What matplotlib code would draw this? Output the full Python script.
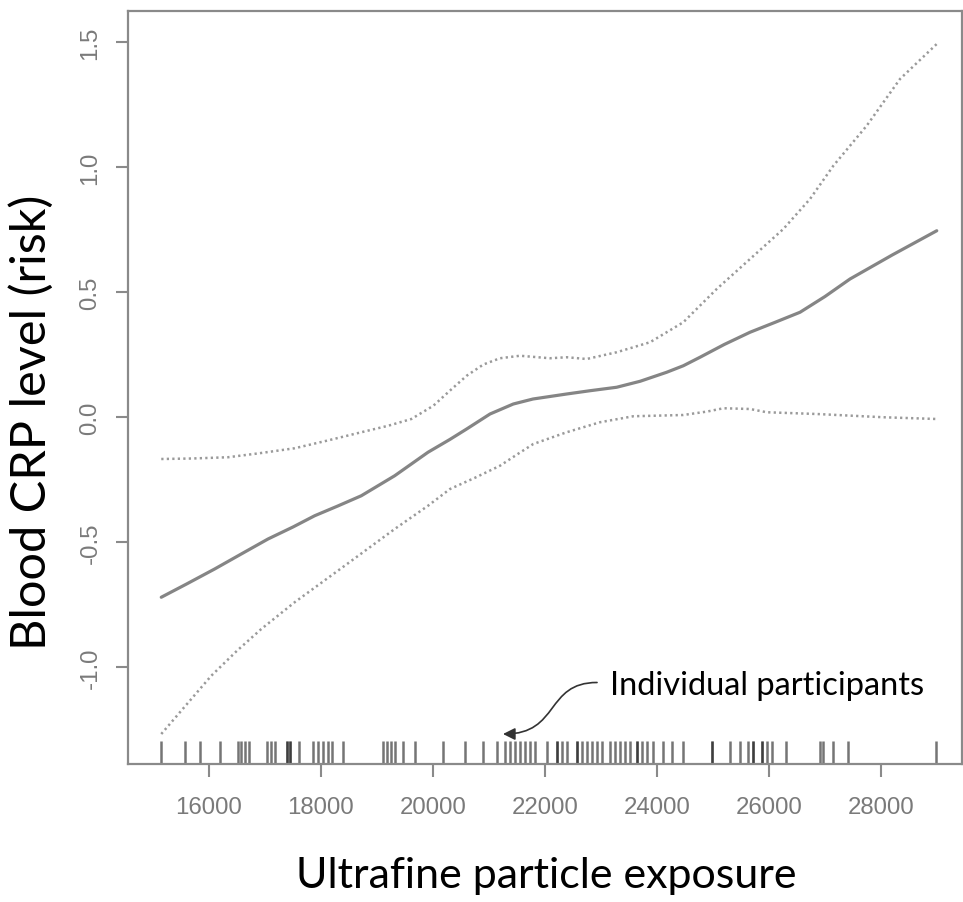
import matplotlib
matplotlib.use("Agg")
import matplotlib.pyplot as plt
from matplotlib.patches import FancyArrowPatch
from matplotlib.path import Path

# ---- data ----
fit_x = [15148, 15600, 16101, 16600, 17054, 17500, 17887, 18300, 18720, 19316,
         19911, 20300, 20601, 21018, 21434, 21786, 22387, 22800, 23280, 23700,
         24173, 24470, 24768, 25200, 25661, 26100, 26554, 27000, 27446, 28200, 28995]
fit_y = [-0.721, -0.668, -0.608, -0.545, -0.488, -0.440, -0.395, -0.356, -0.315, -0.235,
         -0.141, -0.090, -0.048, 0.012, 0.052, 0.072, 0.092, 0.105, 0.119, 0.143,
         0.179, 0.205, 0.239, 0.290, 0.339, 0.378, 0.419, 0.482, 0.552, 0.648, 0.745]

upper_x = [15148, 15700, 16339, 16900, 17530, 18100, 18720, 19200, 19613, 20006,
           20300, 20601, 20900, 21196, 21553, 22089, 22387, 22744, 23280, 23875,
           24470, 25066, 25661, 26256, 26732, 27149, 27744, 28339, 28995]
upper_y = [-0.168, -0.166, -0.161, -0.145, -0.125, -0.095, -0.061, -0.035, -0.008, 0.045,
           0.105, 0.165, 0.210, 0.235, 0.245, 0.235, 0.239, 0.232, 0.259, 0.299,
           0.379, 0.512, 0.632, 0.752, 0.872, 1.005, 1.165, 1.352, 1.492]

lower_x = [15148, 15600, 16041, 16500, 16934, 17530, 18423, 19316, 19911, 20304,
           20750, 21196, 21500, 21791, 22387, 22982, 23577, 24470, 24900, 25185,
           25661, 25959, 26851, 28041, 28995]
lower_y = [-1.268, -1.150, -1.035, -0.935, -0.848, -0.741, -0.595, -0.448, -0.355, -0.288,
           -0.243, -0.195, -0.150, -0.108, -0.061, -0.021, 0.003, 0.008, 0.022, 0.035,
           0.032, 0.019, 0.012, -0.001, -0.008]

participants = [15140, 15570, 15840, 16200, 16510, 16580, 16640, 16720, 17040, 17100,
                17180, 17400, 17400, 17450, 17450, 17610, 17860, 17950, 18040, 18130,
                18190, 18390, 19110, 19170, 19245, 19320, 19460, 19680, 20170, 20570,
                20900, 21140, 21290, 21375, 21465, 21555, 21645, 21730, 21820, 22030,
                22210, 22210, 22300, 22390, 22570, 22570, 22655, 22745, 22835, 22925,
                23010, 23160, 23250, 23340, 23430, 23520, 23640, 23640, 23730, 23815,
                23935, 24115, 24260, 24470, 24975, 24975, 25305, 25480, 25630, 25720,
                25720, 25870, 25870, 25960, 26050, 26305, 26910, 26970, 27150, 27415,
                28980]

x_ticks = [16000, 18000, 20000, 22000, 24000, 26000, 28000]
y_ticks = [-1.0, -0.5, 0.0, 0.5, 1.0, 1.5]
y_tick_labels = ["-1.0", "-0.5", "0.0", "0.5", "1.0", "1.5"]

x_label = "Ultrafine particle exposure"
y_label = "Blood CRP level (risk)"
note = "Individual participants"

# ---- figure ----
W, H = 963, 903
fig = plt.figure(figsize=(W / 100, H / 100), dpi=100)
left, right, top, bottom = 128, 962, 12, 765
ax = fig.add_axes([left / W, 1 - bottom / H, (right - left) / W, (bottom - top) / H])

ax.set_xlim(14554, 29446)
ax.set_ylim(-1.388, 1.624)

ax.plot(fit_x, fit_y, color="#858585", lw=2.3, solid_capstyle="round",
        solid_joinstyle="round")
ax.plot(upper_x, upper_y, color="#9a9a9a", lw=1.8, linestyle=(0, (0.9, 1.3)))
ax.plot(lower_x, lower_y, color="#9a9a9a", lw=1.8, linestyle=(0, (0.9, 1.3)))

# rug
ax.vlines(participants, 0, 0.03, transform=ax.get_xaxis_transform(),
          color="#1a1a1a", lw=1.8, alpha=0.6)

# axes styling
spine_col = "#8a8a8a"
for s in ax.spines.values():
    s.set_color(spine_col)
    s.set_linewidth(1.6)

ax.set_xticks(x_ticks)
ax.set_xticklabels([str(t) for t in x_ticks])
ax.set_yticks(y_ticks)
ax.set_yticklabels(y_tick_labels)
ax.tick_params(axis="both", direction="out", length=9, width=1.5,
               color=spine_col, labelcolor="#7a7a7a")
ax.tick_params(axis="x", pad=14)
ax.tick_params(axis="y", pad=10)
for lab in ax.get_xticklabels():
    lab.set_fontfamily(["Liberation Sans", "DejaVu Sans"])
    lab.set_fontsize(17.3)
for lab in ax.get_yticklabels():
    lab.set_fontfamily(["Liberation Sans", "DejaVu Sans"])
    lab.set_fontsize(17.3)
    lab.set_rotation(90)
    lab.set_va("center")

label_font = ["Lato", "DejaVu Sans"]
fig.text(546 / W, 1 - 876 / H, x_label, ha="center", va="center",
         fontsize=31, family=label_font, color="black")
fig.text(31 / W, 1 - 422 / H, y_label, ha="center", va="center", rotation=90,
         fontsize=35, family=label_font, color="black")

ax.text(23161, -1.072, note, ha="left", va="center", fontsize=23.5,
        family=label_font, color="black")

verts = [(22929, -1.062), (22000, -1.062), (22268, -1.268), (21250, -1.268)]
codes = [Path.MOVETO, Path.CURVE4, Path.CURVE4, Path.CURVE4]
arrow = FancyArrowPatch(path=Path(verts, codes), arrowstyle="-|>", mutation_scale=18,
                        color="#333333", lw=1.2, transform=ax.transData)
ax.add_patch(arrow)

fig.savefig("out.png", dpi=100, facecolor="white")
